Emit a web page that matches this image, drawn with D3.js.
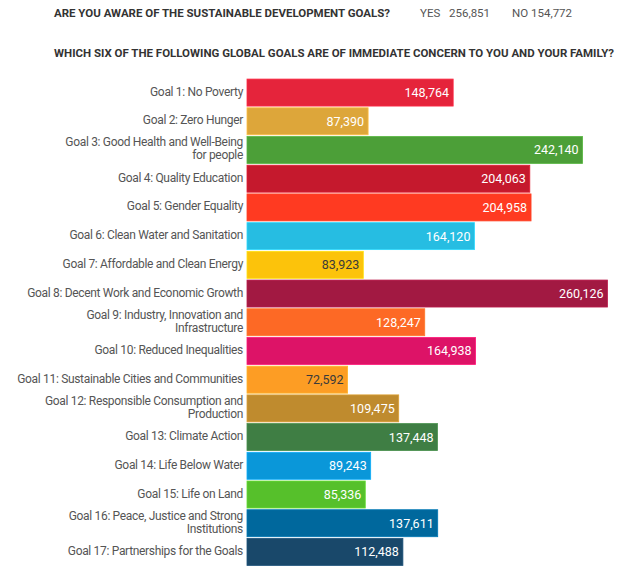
<!DOCTYPE html>
<html>
<head>
<meta charset="utf-8">
<script src="https://cdn.jsdelivr.net/npm/d3@7"></script>
<style>
  body { margin: 0; background: #fff; }
  svg { display: block; }
</style>
</head>
<body>
<svg id="chart" width="640" height="570"></svg>
<script>
const goals = [
  "Goal 1: No Poverty",
  "Goal 2: Zero Hunger",
  "Goal 3: Good Health and Well-Being\nfor people",
  "Goal 4: Quality Education",
  "Goal 5: Gender Equality",
  "Goal 6: Clean Water and Sanitation",
  "Goal 7: Affordable and Clean Energy",
  "Goal 8: Decent Work and Economic Growth",
  "Goal 9: Industry, Innovation and\nInfrastructure",
  "Goal 10: Reduced Inequalities",
  "Goal 11: Sustainable Cities and Communities",
  "Goal 12: Responsible Consumption and\nProduction",
  "Goal 13: Climate Action",
  "Goal 14: Life Below Water",
  "Goal 15: Life on Land",
  "Goal 16: Peace, Justice and Strong\nInstitutions",
  "Goal 17: Partnerships for the Goals"
];
const votes = [148764, 87390, 242140, 204063, 204958, 164120, 83923, 260126, 128247, 164938, 72592, 109475, 137448, 89243, 85336, 137611, 112488];
const goalColors = ["#E5243B", "#DDA63A", "#4C9F38", "#C5192D", "#FF3A21", "#26BDE2", "#FCC30B", "#A21942", "#FD6925", "#DD1367", "#FD9D24", "#BF8B2E", "#3F7E44", "#0A97D9", "#56C02B", "#00689D", "#19486A"];
const darkValueLabels = [false, false, false, false, false, false, true, false, false, false, true, false, false, false, false, false, false];

const awarenessQuestion = "ARE YOU AWARE OF THE SUSTAINABLE DEVELOPMENT GOALS?";
const awarenessAnswers = ["YES", "NO"];
const awarenessCounts = [256851, 154772];
const concernQuestion = "WHICH SIX OF THE FOLLOWING GLOBAL GOALS ARE OF IMMEDIATE CONCERN TO YOU AND YOUR FAMILY?";

const data = goals.map((g, i) => ({ label: g, value: votes[i], color: goalColors[i], dark: darkValueLabels[i] }));
const svg = d3.select("#chart");
const fmt = d3.format(",");
const font = "Roboto, 'Noto Sans', sans-serif";

// Header
svg.append("text")
  .attr("x", 54).attr("y", 17)
  .attr("font-family", font).attr("font-weight", 700).attr("font-size", 11.5)
  .attr("fill", "#333")
  .attr("textLength", 336).attr("lengthAdjust", "spacingAndGlyphs")
  .text(awarenessQuestion);

const ansX = [420, 512];
const numX = [449, 531];
awarenessAnswers.forEach((a, i) => {
  svg.append("text")
    .attr("x", ansX[i]).attr("y", 17)
    .attr("font-family", font).attr("font-size", 11.5)
    .attr("fill", "#555")
    .text(a);
  svg.append("text")
    .attr("x", numX[i]).attr("y", 17)
    .attr("font-family", font).attr("font-size", 11.5)
    .attr("fill", "#555")
    .text(fmt(awarenessCounts[i]));
});

svg.append("text")
  .attr("x", 54).attr("y", 57)
  .attr("font-family", font).attr("font-weight", 700).attr("font-size", 11.5)
  .attr("fill", "#333")
  .attr("textLength", 560).attr("lengthAdjust", "spacingAndGlyphs")
  .text(concernQuestion);

// Scales
const x = d3.scaleLinear().domain([0, d3.max(votes)]).range([247, 607.5]);
const y = d3.scaleBand().domain(goals).range([78.5, 566]).paddingInner(0.06).paddingOuter(0.02);

const rows = svg.append("g").selectAll("g").data(data).join("g");

rows.append("rect")
  .attr("x", x(0))
  .attr("y", d => y(d.label))
  .attr("width", d => x(d.value) - x(0))
  .attr("height", y.bandwidth())
  .attr("fill", d => d.color)
  .attr("stroke", d => d3.color(d.color).brighter(0.4))
  .attr("stroke-width", 0.8);

rows.append("text")
  .attr("x", d => x(d.value) - 4)
  .attr("y", d => y(d.label) + y.bandwidth() / 2)
  .attr("dy", "0.36em")
  .attr("text-anchor", "end")
  .attr("font-family", font).attr("font-size", 12.5)
  .attr("fill", d => d.dark ? "#3a3a3a" : "#fff")
  .text(d => fmt(d.value));

rows.append("text")
  .attr("text-anchor", "end")
  .attr("font-family", font).attr("font-size", 12)
  .attr("letter-spacing", -0.32)
  .attr("fill", "#555")
  .each(function(d) {
    const lines = d.label.split("\n");
    const cy = y(d.label) + y.bandwidth() / 2;
    const lh = 13;
    const t = d3.select(this);
    lines.forEach((ln, k) => {
      t.append("tspan")
        .attr("x", 243)
        .attr("y", cy + (k - (lines.length - 1) / 2) * lh + 3)
        .text(ln);
    });
  });
</script>
</body>
</html>
